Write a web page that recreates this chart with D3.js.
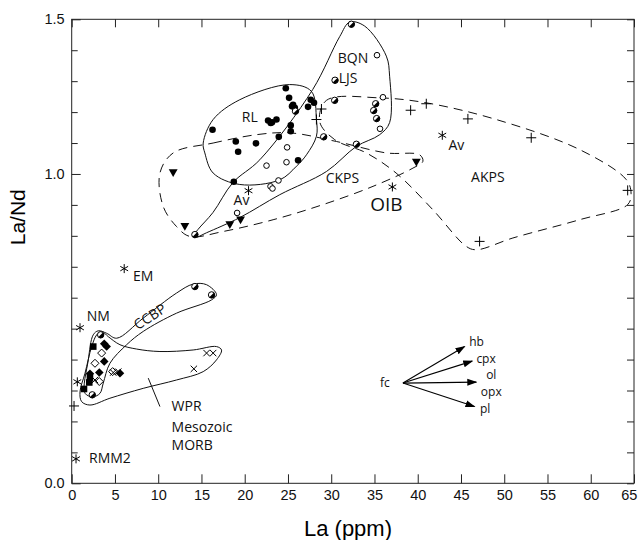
<!DOCTYPE html>
<html>
<head>
<meta charset="utf-8">
<script src="https://cdn.jsdelivr.net/npm/d3@7/dist/d3.min.js"></script>
<style>
  body { margin: 0; background: #fff; }
  .axis text { font-family: "Liberation Sans", Arial, sans-serif; font-size: 14.5px; fill: #111; }
  .axis line { stroke: #222; }
  .lbl { font-family: "Open Sans", sans-serif; font-size: 14px; fill: #111; }
</style>
</head>
<body>
<svg id="chart" width="638" height="540"></svg>
<script>
/* global d3 */

// axis ticks
const xTicks = [0, 5, 10, 15, 20, 25, 30, 35, 40, 45, 50, 55, 60, 65];
const yMinorTicks = d3.range(0, 16).map(i => i / 10);
const yLabelTicks = [0, 1.0, 1.5];

// sample points [La ppm, La/Nd]
const filledCircles = [
  [24.75, 1.277], [25.13, 1.246], [25.59, 1.224], [25.79, 1.214], [25.47, 1.219],
  [27.63, 1.240], [28.01, 1.230], [27.32, 1.217], [22.70, 1.173], [23.16, 1.167],
  [23.67, 1.176], [23.01, 1.165], [25.32, 1.157], [25.32, 1.138], [23.94, 1.120],
  [21.30, 1.099], [16.28, 1.143], [18.97, 1.105], [19.24, 1.072], [26.17, 1.044],
  [18.74, 0.975]
];
const halfCircles = [
  [25.87, 1.203], [32.33, 1.484], [30.44, 1.303], [30.40, 1.238], [35.14, 1.227],
  [34.91, 1.205], [35.25, 1.179], [29.13, 1.120], [32.91, 1.096], [14.24, 0.804],
  [14.24, 0.636], [16.17, 0.609], [3.35, 0.480], [2.38, 0.286]
];
const openCircles = [
  [35.29, 1.384], [35.98, 1.248], [35.64, 1.146], [24.90, 1.086], [22.52, 1.027],
  [24.83, 1.038], [22.98, 0.960], [23.21, 0.953], [23.90, 0.979], [19.12, 0.874]
];
const pluses = [
  [28.87, 1.210], [28.29, 1.176], [39.18, 1.206], [40.99, 1.227], [45.80, 1.178],
  [53.12, 1.117], [64.27, 0.947], [47.15, 0.782], [0.27, 0.250]
];
const asterisks = [
  [42.84, 1.125], [37.07, 0.958], [20.44, 0.946], [6.07, 0.694], [0.96, 0.503],
  [0.65, 0.328], [0.50, 0.079]
];
const triangles = [
  [39.84, 1.041], [11.73, 1.007], [13.08, 0.833], [18.28, 0.839], [19.52, 0.854]
];
const filledSquares = [
  [2.49, 0.442], [2.11, 0.340], [2.03, 0.326], [1.42, 0.305]
];
const filledDiamonds = [
  [3.76, 0.451], [4.04, 0.442], [3.76, 0.394], [3.19, 0.358], [2.11, 0.354], [5.58, 0.356]
];
const openDiamonds = [
  [3.46, 0.421], [2.69, 0.388], [3.19, 0.329], [4.73, 0.361]
];
const crosses = [
  [4.80, 0.358], [5.38, 0.361], [2.69, 0.334], [15.59, 0.421], [16.35, 0.421], [14.12, 0.370]
];

// field outlines [La ppm, La/Nd]
const fieldBQN = [
  [14.04, 0.798], [14.58, 0.820], [16.32, 0.875], [18.63, 0.972], [21.75, 1.046],
  [27.86, 1.273], [30.98, 1.444], [32.14, 1.491], [33.87, 1.478], [36.37, 1.381],
  [36.75, 1.316], [36.75, 1.166], [35.60, 1.127], [32.90, 1.089], [29.45, 1.008],
  [24.05, 0.933], [19.43, 0.859], [15.59, 0.810], [14.24, 0.794]
];
const fieldRL = [
  [15.20, 1.100], [16.35, 1.176], [19.43, 1.240], [25.20, 1.289], [27.71, 1.267],
  [28.29, 1.176], [28.29, 1.122], [27.14, 1.062], [25.98, 1.025], [24.05, 0.981],
  [19.43, 0.966], [16.35, 1.003], [15.39, 1.068]
];
const fieldCKPS = [
  [11.73, 1.068], [16.35, 1.100], [21.36, 1.127], [25.21, 1.133], [30.60, 1.105],
  [36.37, 1.068], [40.22, 1.062], [40.60, 1.041], [39.45, 1.019], [34.83, 0.960],
  [29.05, 0.901], [23.28, 0.852], [17.50, 0.814], [13.66, 0.798], [12.12, 0.830],
  [10.58, 0.895], [10.20, 1.003]
];
const fieldAKPS = [
  [29.45, 1.238], [35.60, 1.246], [40.99, 1.230], [49.08, 1.176], [58.70, 1.079],
  [64.10, 0.982], [64.66, 0.938], [64.27, 0.901], [58.70, 0.852], [51.00, 0.793],
  [46.77, 0.755], [45.60, 0.766], [41.76, 0.884], [37.50, 1.003], [34.06, 1.068],
  [30.40, 1.111], [28.67, 1.169]
];
const fieldCCBP = [
  [16.74, 0.610], [15.59, 0.642], [14.04, 0.644], [12.12, 0.615], [8.27, 0.534],
  [5.20, 0.469], [4.04, 0.485], [3.07, 0.493], [2.49, 0.480], [1.92, 0.399],
  [1.54, 0.291], [2.49, 0.280], [3.27, 0.291], [3.65, 0.324], [4.42, 0.388],
  [6.35, 0.448], [8.27, 0.491], [12.12, 0.550], [16.17, 0.593]
];
const fieldWPR = [
  [4.23, 0.474], [5.58, 0.448], [7.51, 0.434], [10.20, 0.426], [14.04, 0.431],
  [16.74, 0.442], [17.32, 0.431], [16.74, 0.399], [15.20, 0.361], [12.12, 0.334],
  [8.27, 0.307], [4.42, 0.275], [2.11, 0.253], [1.15, 0.264], [0.96, 0.296],
  [1.54, 0.356], [2.31, 0.442], [2.89, 0.480], [3.46, 0.491]
];
const wprPointer = [[8.85, 0.340], [10.20, 0.248]];

// fractional crystallisation vectors
const fcOrigin = [38.29, 0.324];
const fcVectors = [
  { name: 'hb', end: [45.42, 0.442] },
  { name: 'cpx', end: [46.30, 0.395] },
  { name: 'ol', end: [46.77, 0.327] },
  { name: 'pl', end: [46.57, 0.248] }
];

// text annotations [text, La, La/Nd]
const labels = [
  ['NM', 3.07, 0.539], ['EM', 8.27, 0.671], ['RMM2', 4.42, 0.081], ['RL', 20.59, 1.183],
  ['BQN', 32.52, 1.373], ['LJS', 31.94, 1.311], ['Av', 19.63, 0.914], ['CKPS', 31.29, 0.987],
  ['OIB', 36.37, 0.901], ['Av', 44.46, 1.092], ['AKPS', 48.10, 0.990],
  ['fc', 36.2, 0.324], ['hb', 46.8, 0.459], ['cpx', 47.9, 0.402], ['ol', 48.5, 0.350],
  ['opx', 48.5, 0.297], ['pl', 47.8, 0.240]
];
// left-aligned note under the WPR field
const wprNote = [['WPR', 11.55, 0.248], ['Mesozoic', 11.55, 0.183], ['MORB', 11.55, 0.125]];
const ccbpLabel = ['CCBP', 9.04, 0.539];

const svg = d3.select('#chart');
const x = d3.scaleLinear().domain([0, 65]).range([71.7, 634]);
const y = d3.scaleLinear().domain([0, 1.5]).range([483.3, 19.3]);

// frame
svg.append('rect')
  .attr('x', x(0)).attr('y', y(1.5))
  .attr('width', x(65) - x(0)).attr('height', y(0) - y(1.5))
  .attr('fill', 'none').attr('stroke', '#222').attr('stroke-width', 1);

const isLabelled = d => yLabelTicks.some(v => Math.abs(v - d) < 1e-6);

const bottomAxis = svg.append('g').attr('class', 'axis')
  .attr('transform', `translate(0,${y(0)})`)
  .call(d3.axisBottom(x).tickValues(xTicks).tickSize(-9).tickPadding(6));
// last label sits flush with the right edge of the frame
bottomAxis.selectAll('.tick text').filter(d => d === 65)
  .attr('text-anchor', 'end').attr('dx', '0.2em');
const topAxis = svg.append('g').attr('class', 'axis')
  .attr('transform', `translate(0,${y(1.5)})`)
  .call(d3.axisTop(x).tickValues(xTicks).tickSize(-8).tickFormat(''));
const leftAxis = svg.append('g').attr('class', 'axis')
  .attr('transform', `translate(${x(0)},0)`)
  .call(d3.axisLeft(y).tickValues(yMinorTicks).tickSize(-6).tickPadding(7)
    .tickFormat(d => (isLabelled(d) ? d3.format('.1f')(d) : '')));
leftAxis.selectAll('.tick line').attr('x2', d => (isLabelled(d) ? 9 : 6));
const rightAxis = svg.append('g').attr('class', 'axis')
  .attr('transform', `translate(${x(65)},0)`)
  .call(d3.axisRight(y).tickValues(yMinorTicks).tickSize(-7).tickFormat(''));
[bottomAxis, topAxis, leftAxis, rightAxis].forEach(g => g.select('.domain').remove());

// axis titles
svg.append('text')
  .attr('x', 348).attr('y', 536)
  .attr('text-anchor', 'middle')
  .style('font-family', '"Liberation Sans", Arial, sans-serif')
  .style('font-size', '22px')
  .text('La (ppm)');
svg.append('text')
  .attr('transform', `translate(25,${y(0.86)}) rotate(-90)`)
  .attr('text-anchor', 'middle')
  .style('font-family', '"Liberation Sans", Arial, sans-serif')
  .style('font-size', '21px')
  .text('La/Nd');

// fields
const closedLine = d3.line().x(d => x(d[0])).y(d => y(d[1]))
  .curve(d3.curveCatmullRomClosed.alpha(0.5));
const solidFields = [fieldBQN, fieldRL, fieldCCBP, fieldWPR];
const dashedFields = [fieldCKPS, fieldAKPS];
svg.selectAll('.solidField').data(solidFields).enter()
  .append('path').attr('class', 'solidField')
  .attr('d', closedLine)
  .attr('fill', 'none').attr('stroke', '#111').attr('stroke-width', 1);
svg.selectAll('.dashField').data(dashedFields).enter()
  .append('path').attr('class', 'dashField')
  .attr('d', closedLine)
  .attr('fill', 'none').attr('stroke', '#111').attr('stroke-width', 1)
  .attr('stroke-dasharray', '9,6');

svg.append('path')
  .attr('d', d3.line().x(d => x(d[0])).y(d => y(d[1]))(wprPointer))
  .attr('stroke', '#111').attr('fill', 'none');

// symbols
const addSymbols = (data, draw) => {
  const g = svg.append('g');
  data.forEach((d) => {
    const s = g.append('g').attr('transform', `translate(${x(d[0])},${y(d[1])})`);
    draw(s);
  });
};

addSymbols(filledCircles, s => s.append('circle').attr('r', 3.3).attr('fill', '#000'));
addSymbols(openCircles, s => s.append('circle').attr('r', 2.8)
  .attr('fill', '#fff').attr('stroke', '#000').attr('stroke-width', 1));
addSymbols(halfCircles, (s) => {
  s.append('circle').attr('r', 3.2).attr('fill', '#fff').attr('stroke', '#000').attr('stroke-width', 1);
  s.append('path').attr('d', d3.arc()({
    innerRadius: 0, outerRadius: 3.2, startAngle: Math.PI * 0.25, endAngle: Math.PI * 1.25
  })).attr('fill', '#000');
});
addSymbols(pluses, s => s.append('path').attr('d', 'M-5,0H5M0,-5V5')
  .attr('stroke', '#000').attr('stroke-width', 1));
addSymbols(asterisks, s => s.append('path')
  .attr('d', 'M0,-4.5V4.5M-3.9,-2.25L3.9,2.25M-3.9,2.25L3.9,-2.25')
  .attr('stroke', '#000').attr('stroke-width', 1));
addSymbols(triangles, s => s.append('path')
  .attr('d', d3.symbol(d3.symbolTriangle, 34)())
  .attr('transform', 'rotate(180)').attr('fill', '#000'));
addSymbols(filledSquares, s => s.append('rect')
  .attr('x', -3.3).attr('y', -3.3).attr('width', 6.6).attr('height', 6.6).attr('fill', '#000'));
addSymbols(filledDiamonds, s => s.append('path')
  .attr('d', 'M0,-4.3L4.3,0L0,4.3L-4.3,0Z').attr('fill', '#000'));
addSymbols(openDiamonds, s => s.append('path')
  .attr('d', 'M0,-4L4,0L0,4L-4,0Z').attr('fill', '#fff').attr('stroke', '#000'));
addSymbols(crosses, s => s.append('path')
  .attr('d', 'M-3.2,-3.2L3.2,3.2M-3.2,3.2L3.2,-3.2')
  .attr('stroke', '#000').attr('stroke-width', 1));

// fc arrows
svg.append('defs').append('marker')
  .attr('id', 'arrow').attr('viewBox', '0 0 10 10')
  .attr('refX', 9).attr('refY', 5)
  .attr('markerWidth', 10).attr('markerHeight', 10)
  .attr('markerUnits', 'userSpaceOnUse')
  .attr('orient', 'auto')
  .append('path').attr('d', 'M0,1.5L10,5L0,8.5Z').attr('fill', '#000');
svg.selectAll('.fc').data(fcVectors).enter()
  .append('line').attr('class', 'fc')
  .attr('x1', x(fcOrigin[0])).attr('y1', y(fcOrigin[1]))
  .attr('x2', d => x(d.end[0])).attr('y2', d => y(d.end[1]))
  .attr('stroke', '#000').attr('stroke-width', 1.1)
  .attr('marker-end', 'url(#arrow)');

// labels
const bigLabels = ['OIB'];
const smallLabels = ['fc', 'hb', 'cpx', 'ol', 'opx', 'pl'];
svg.selectAll('.lbl').data(labels).enter()
  .append('text').attr('class', 'lbl')
  .attr('x', d => x(d[1])).attr('y', d => y(d[2]))
  .attr('dy', '0.35em')
  .attr('text-anchor', 'middle')
  .style('font-size', (d) => {
    if (bigLabels.includes(d[0])) return '19px';
    if (smallLabels.includes(d[0])) return '12px';
    return '14px';
  })
  .text(d => d[0]);

svg.selectAll('.note').data(wprNote).enter()
  .append('text').attr('class', 'lbl note')
  .attr('x', d => x(d[1])).attr('y', d => y(d[2]))
  .attr('dy', '0.35em')
  .attr('text-anchor', 'start')
  .text(d => d[0]);

svg.append('text').attr('class', 'lbl')
  .attr('transform', `translate(${x(ccbpLabel[1])},${y(ccbpLabel[2])}) rotate(-33)`)
  .attr('text-anchor', 'middle').attr('dy', '0.35em')
  .text(ccbpLabel[0]);
</script>
</body>
</html>
